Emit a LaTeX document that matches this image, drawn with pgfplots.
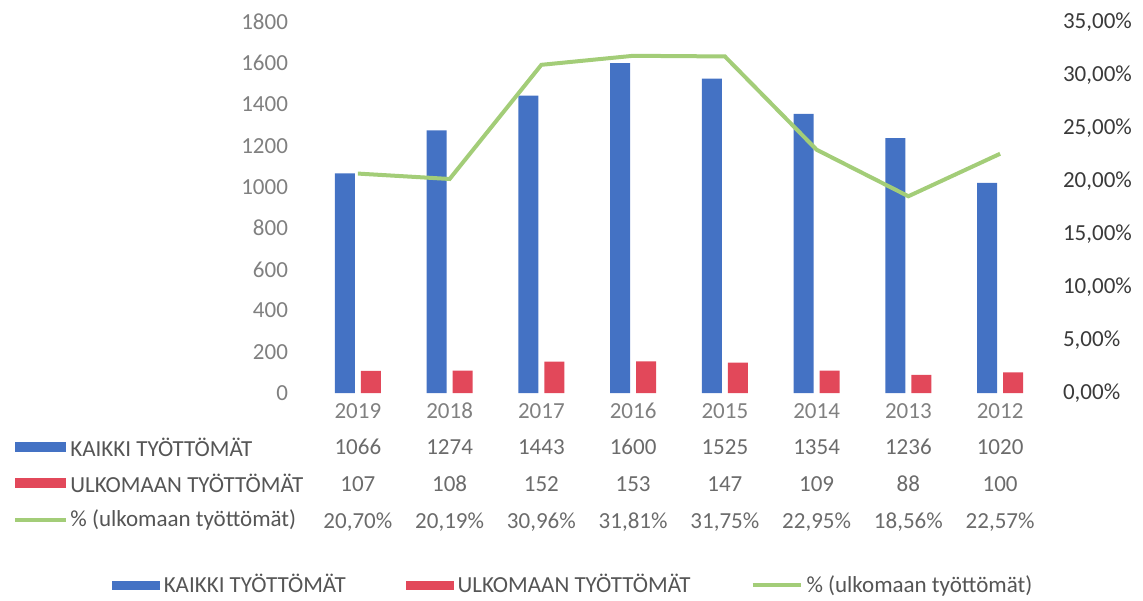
\documentclass[border=0pt]{standalone}
\usepackage{fontspec}
\setmainfont{Carlito}
\usepackage{pgfplots}
\pgfplotsset{compat=1.18}
\definecolor{kblue}{HTML}{4472C4}
\definecolor{kred}{HTML}{E2485A}
\definecolor{kgreen}{HTML}{A3CD78}
\definecolor{tgray}{HTML}{808080}
\definecolor{vgray}{HTML}{6B6B6B}
\definecolor{lgray}{HTML}{555555}
\definecolor{rgray}{HTML}{3A3A3A}

\begin{document}
\begin{tikzpicture}[font=\fontsize{11.5}{14}\selectfont]
\useasboundingbox (0,0) rectangle (571.5pt,300pt);

% row labels of the data table
\fill[kblue] (7.5pt,74.2pt) rectangle (33pt,78.8pt);
\node[anchor=west, text=lgray, inner sep=0pt] at (35pt,76.5pt) {KAIKKI TYÖTTÖMÄT};
\fill[kred] (7.5pt,56.2pt) rectangle (33pt,60.8pt);
\node[anchor=west, text=lgray, inner sep=0pt] at (35pt,58.5pt) {ULKOMAAN TYÖTTÖMÄT};
\draw[kgreen, line width=2pt] (7.5pt,40pt) -- (33pt,40pt);
\node[anchor=west, text=lgray, inner sep=0pt] at (35pt,40pt) {\% (ulkomaan työttömät)};

\begin{axis}[
  at={(156pt,103.5pt)}, anchor=south west,
  scale only axis, width=367pt, height=185.5pt,
  ymin=0, ymax=1800, ytick={0,200,...,1800},
  yticklabels={0,200,400,600,800,1000,1200,1400,1600,1800},
  yticklabel style={text=tgray, xshift=-8.5pt},
  xmin=-0.5, xmax=7.5, xtick={0,...,7},
  xticklabels={
    {\strut 2019\\[4.3pt]\strut\textcolor{vgray}{1066}\\[4.3pt]\strut\textcolor{vgray}{107}\\[4.3pt]\strut\textcolor{vgray}{20,70\%}},
    {\strut 2018\\[4.3pt]\strut\textcolor{vgray}{1274}\\[4.3pt]\strut\textcolor{vgray}{108}\\[4.3pt]\strut\textcolor{vgray}{20,19\%}},
    {\strut 2017\\[4.3pt]\strut\textcolor{vgray}{1443}\\[4.3pt]\strut\textcolor{vgray}{152}\\[4.3pt]\strut\textcolor{vgray}{30,96\%}},
    {\strut 2016\\[4.3pt]\strut\textcolor{vgray}{1600}\\[4.3pt]\strut\textcolor{vgray}{153}\\[4.3pt]\strut\textcolor{vgray}{31,81\%}},
    {\strut 2015\\[4.3pt]\strut\textcolor{vgray}{1525}\\[4.3pt]\strut\textcolor{vgray}{147}\\[4.3pt]\strut\textcolor{vgray}{31,75\%}},
    {\strut 2014\\[4.3pt]\strut\textcolor{vgray}{1354}\\[4.3pt]\strut\textcolor{vgray}{109}\\[4.3pt]\strut\textcolor{vgray}{22,95\%}},
    {\strut 2013\\[4.3pt]\strut\textcolor{vgray}{1236}\\[4.3pt]\strut\textcolor{vgray}{88}\\[4.3pt]\strut\textcolor{vgray}{18,56\%}},
    {\strut 2012\\[4.3pt]\strut\textcolor{vgray}{1020}\\[4.3pt]\strut\textcolor{vgray}{100}\\[4.3pt]\strut\textcolor{vgray}{22,57\%}}},
  xticklabel style={align=center, text=tgray, anchor=north, yshift=5pt},
  ybar=3pt, bar width=10pt,
  axis line style={draw=none}, tick style={draw=none},
  clip=false,
  legend columns=3,
  legend style={at={(0.357,-0.518)}, anchor=center, draw=none, fill=none,
    text=lgray, font=\fontsize{11.5}{14}\selectfont,
    /tikz/every even column/.append style={column sep=28pt}},
  legend cell align=left,
]
\addplot[fill=kblue, draw=none,
  legend image code/.code={\fill[kblue] (0pt,-2.3pt) rectangle (24pt,2.3pt);}]
  coordinates {(0,1066) (1,1274) (2,1443) (3,1600) (4,1525) (5,1354) (6,1236) (7,1020)};
\addlegendentry{KAIKKI TYÖTTÖMÄT}
\addplot[fill=kred, draw=none,
  legend image code/.code={\fill[kred] (0pt,-2.3pt) rectangle (24pt,2.3pt);}]
  coordinates {(0,107) (1,108) (2,152) (3,153) (4,147) (5,109) (6,88) (7,100)};
\addlegendentry{ULKOMAAN TYÖTTÖMÄT}
\addlegendimage{legend image code/.code={\draw[kgreen, line width=2pt] (0pt,0pt) -- (24pt,0pt);}}
\addlegendentry{\% (ulkomaan työttömät)}
\end{axis}

\begin{axis}[
  at={(156pt,103.5pt)}, anchor=south west,
  scale only axis, width=367pt, height=185.5pt,
  xmin=-0.5, xmax=7.5, hide x axis,
  ymin=0, ymax=0.35, axis y line*=right,
  ytick={0,0.05,0.1,0.15,0.2,0.25,0.3,0.35},
  yticklabels={{0,00\%},{5,00\%},{10,00\%},{15,00\%},{20,00\%},{25,00\%},{30,00\%},{35,00\%}},
  yticklabel style={text=rgray, anchor=west, xshift=5pt},
  axis line style={draw=none}, tick style={draw=none},
  clip=false,
]
\addplot[kgreen, line width=2pt] coordinates {
  (0,0.2070) (1,0.2019) (2,0.3096) (3,0.3181) (4,0.3175) (5,0.2295) (6,0.1856) (7,0.2257)};
\end{axis}
\end{tikzpicture}
\end{document}
